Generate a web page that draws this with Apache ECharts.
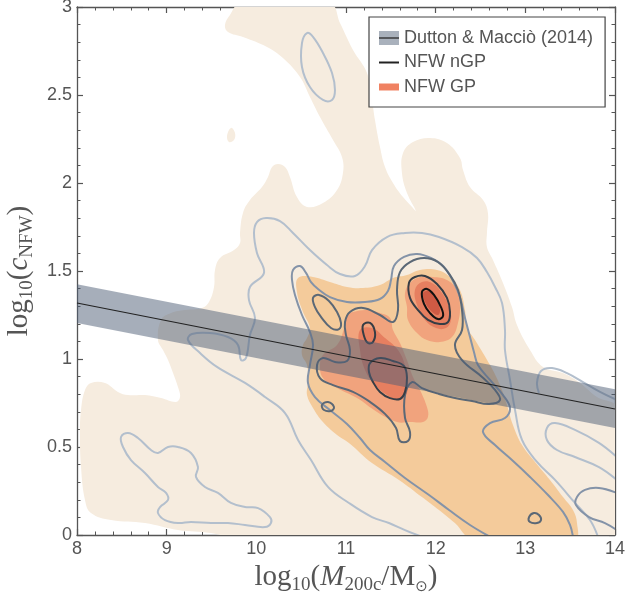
<!DOCTYPE html>
<html><head><meta charset="utf-8">
<script src="https://cdn.jsdelivr.net/npm/echarts@6/dist/echarts.min.js"></script>
<style>html,body{margin:0;padding:0;background:#fff}#c{width:644px;height:595px}</style>
</head><body><div id="c"></div>
<script>
// ---------- Dutton & Maccio (2014) relation ----------
const bandMass   = [8, 14];
const bandCentre = [1.318, 0.716];
const bandUpper  = [1.425, 0.828];
const bandLower  = [1.205, 0.608];

// ---------- NFW GP : filled density levels (log10 M, log10 c) ----------
const gpLevel1 = [
 [[9.818,3.02],[10.821,3.02],[10.933,2.909],[11.078,2.756],[11.234,2.625],[11.290,2.472],[11.323,2.358],[11.379,2.205],[11.435,2.091],[11.524,2.000],[11.636,1.920],[11.747,1.858],[11.780,1.841],[11.680,1.943],[11.624,2.057],[11.636,2.170],[11.747,2.233],[11.937,2.256],[12.126,2.227],[12.271,2.142],[12.305,2.074],[12.383,1.977],[12.528,1.903],[12.583,1.830],[12.572,1.716],[12.572,1.636],[12.639,1.563],[12.751,1.432],[12.851,1.295],[12.907,1.193],[13.052,1.051],[13.197,0.955],[13.420,0.920],[13.609,0.864],[13.799,0.784],[14.02,0.722],[14.02,-0.02],[9.818,-0.02],[9.494,0.011],[9.126,0.028],[8.758,0.068],[8.379,0.085],[8.156,0.125],[8.089,0.199],[8.045,0.386],[8.033,0.580],[8.045,0.710],[8.089,0.824],[8.156,0.864],[8.312,0.864],[8.457,0.813],[8.569,0.795],[8.758,0.795],[8.937,0.778],[9.104,0.756],[9.149,0.784],[9.126,0.841],[9.071,0.920],[9.015,0.994],[8.959,1.051],[8.903,1.108],[8.937,1.222],[9.048,1.261],[9.204,1.278],[9.394,1.290],[9.472,1.324],[9.528,1.409],[9.539,1.506],[9.595,1.574],[9.751,1.619],[9.818,1.659],[9.818,1.716],[9.851,1.830],[9.929,1.903],[10.063,1.977],[10.130,2.034],[10.175,2.091],[10.242,2.108],[10.320,2.091],[10.375,2.034],[10.453,1.920],[10.565,1.864],[10.743,1.886],[10.900,1.960],[10.966,2.057],[10.955,2.148],[10.855,2.244],[10.710,2.375],[10.598,2.489],[10.487,2.602],[10.297,2.710],[10.119,2.773],[9.851,2.830],[9.684,2.858],[9.650,2.898],[9.706,2.955]],
 [[9.717,2.313],[9.762,2.284],[9.751,2.244],[9.695,2.233],[9.673,2.267]]
];
const gpLevel2 = [
 [[10.465,1.460],[10.632,1.466],[10.821,1.437],[11.011,1.409],[11.190,1.403],[11.379,1.420],[11.524,1.460],[11.680,1.477],[11.825,1.506],[12.015,1.506],[12.160,1.466],[12.271,1.392],[12.327,1.278],[12.349,1.182],[12.439,1.108],[12.606,0.966],[12.717,0.852],[12.795,0.739],[12.862,0.625],[12.963,0.511],[13.108,0.415],[13.275,0.313],[13.420,0.216],[13.531,0.142],[13.576,0.068],[13.554,-0.02],[12.405,-0.02],[12.215,0.068],[12.037,0.142],[11.847,0.216],[11.591,0.313],[11.290,0.409],[11.033,0.523],[10.900,0.568],[10.743,0.642],[10.632,0.722],[10.565,0.795],[10.576,0.869],[10.565,0.966],[10.509,1.023],[10.520,1.080],[10.565,1.119],[10.598,1.176],[10.520,1.267],[10.453,1.381]]
];
const gpLevel3 = [
 [[11.680,1.295],[11.658,1.375],[11.714,1.432],[11.825,1.466],[11.970,1.466],[12.126,1.449],[12.238,1.392],[12.271,1.295],[12.249,1.205],[12.182,1.125],[12.048,1.097],[11.903,1.108],[11.792,1.148],[11.691,1.222]],
 [[11.011,1.250],[11.078,1.267],[11.234,1.278],[11.379,1.261],[11.491,1.233],[11.524,1.165],[11.602,1.091],[11.680,0.994],[11.747,0.898],[11.825,0.824],[11.903,0.727],[11.914,0.670],[11.859,0.642],[11.714,0.642],[11.569,0.642],[11.346,0.699],[11.123,0.778],[10.900,0.835],[10.743,0.892],[10.710,0.966],[10.743,1.023],[10.900,1.080],[10.966,1.153]]
];
const gpLevel4 = [
 [[11.769,1.392],[11.847,1.437],[11.959,1.432],[12.071,1.375],[12.149,1.295],[12.171,1.222],[12.115,1.176],[12.004,1.176],[11.881,1.222],[11.792,1.307]],
 [[11.156,1.165],[11.290,1.176],[11.435,1.119],[11.580,1.051],[11.658,0.966],[11.691,0.881],[11.669,0.795],[11.580,0.767],[11.457,0.795],[11.323,0.852],[11.212,0.938],[11.156,1.051]]
];
const gpLevel5 = [
 [[11.859,1.375],[11.926,1.386],[12.004,1.341],[12.048,1.278],[12.026,1.250],[11.948,1.273],[11.881,1.324]]
];

// ---------- NFW nGP : contour lines ----------
const ngpLevel1Closed = [
 [[10.565,2.852],[10.509,2.795],[10.509,2.659],[10.598,2.545],[10.743,2.472],[10.844,2.472],[10.877,2.528],[10.844,2.625],[10.743,2.739],[10.632,2.830]],
 [[8.491,0.557],[8.569,0.580],[8.680,0.551],[8.825,0.483],[8.903,0.466],[9.015,0.500],[9.126,0.500],[9.271,0.466],[9.349,0.386],[9.327,0.330],[9.427,0.273],[9.572,0.239],[9.717,0.182],[9.874,0.159],[10.019,0.153],[10.152,0.102],[10.163,0.068],[10.097,0.045],[9.874,0.057],[9.684,0.068],[9.494,0.068],[9.271,0.074],[9.126,0.068],[8.981,0.085],[8.903,0.125],[8.926,0.159],[9.015,0.199],[8.993,0.239],[8.903,0.273],[8.758,0.352],[8.602,0.426],[8.513,0.500]]
];
const ngpLevel1Open = [
 [[11.847,-0.01],[11.658,0.028],[11.479,0.068],[11.290,0.102],[11.033,0.182],[10.799,0.273],[10.610,0.426],[10.465,0.540],[10.320,0.693],[10.097,0.784],[9.874,0.864],[9.561,0.955],[9.372,1.034],[9.238,1.108],[9.282,1.142],[9.483,1.148],[9.684,1.125],[9.795,1.080],[9.829,0.994],[9.885,1.006],[9.929,1.136],[9.985,1.233],[9.918,1.335],[9.929,1.409],[10.085,1.489],[10.007,1.602],[9.974,1.716],[10.007,1.778],[10.108,1.801],[10.264,1.784],[10.409,1.716],[10.598,1.619],[10.788,1.534],[10.933,1.483],[11.100,1.472],[11.212,1.528],[11.290,1.619],[11.457,1.693],[11.658,1.716],[11.847,1.716],[12.037,1.693],[12.294,1.636],[12.461,1.574],[12.572,1.494],[12.662,1.409],[12.740,1.318],[12.773,1.165],[12.773,1.051],[12.829,0.881],[12.885,0.710],[12.963,0.540],[13.130,0.415],[13.331,0.313],[13.554,0.182],[13.721,0.085],[13.810,-0.01]],
 [[14.02,0.767],[13.833,0.813],[13.643,0.869],[13.465,0.920],[13.297,0.949],[13.175,0.932],[13.130,0.864],[13.152,0.807]],
 [[14.02,0.443],[13.821,0.523],[13.554,0.597],[13.331,0.636],[13.241,0.608],[13.241,0.540],[13.353,0.483],[13.554,0.443],[13.821,0.386],[14.02,0.313]]
];
const ngpLevel2Open = [
 [[12.606,-0.01],[12.383,0.057],[12.149,0.142],[11.926,0.227],[11.658,0.324],[11.435,0.415],[11.268,0.483],[11.156,0.551],[11.011,0.631],[10.821,0.710],[10.654,0.784],[10.576,0.864],[10.598,0.966],[10.632,1.080],[10.598,1.153],[10.509,1.250],[10.431,1.364],[10.398,1.449],[10.409,1.506],[10.487,1.528],[10.554,1.489],[10.610,1.437],[10.688,1.398],[10.821,1.352],[11.011,1.324],[11.212,1.324],[11.379,1.341],[11.468,1.386],[11.502,1.449],[11.535,1.528],[11.647,1.580],[11.792,1.597],[11.948,1.574],[12.093,1.523],[12.193,1.443],[12.271,1.352],[12.327,1.233],[12.383,1.125],[12.427,1.040],[12.472,0.966],[12.606,0.881],[12.751,0.795],[12.829,0.722],[12.773,0.665],[12.606,0.636],[12.528,0.585],[12.662,0.511],[12.851,0.426],[13.052,0.330],[13.253,0.227],[13.420,0.131],[13.498,0.057],[13.531,-0.01]],
 [[14.02,0.239],[13.821,0.267],[13.665,0.256],[13.576,0.216],[13.565,0.170],[13.710,0.102],[13.888,0.068],[14.02,0.028]]
];
const ngpLevel3Closed = [
 [[11.044,1.267],[11.190,1.290],[11.379,1.250],[11.524,1.210],[11.580,1.278],[11.569,1.392],[11.602,1.494],[11.714,1.551],[11.870,1.574],[12.026,1.551],[12.160,1.477],[12.249,1.392],[12.294,1.278],[12.294,1.165],[12.215,1.080],[12.294,0.994],[12.517,0.898],[12.662,0.824],[12.717,0.767],[12.595,0.744],[12.405,0.761],[12.215,0.778],[12.037,0.801],[11.847,0.835],[11.736,0.869],[11.658,0.795],[11.658,0.665],[11.714,0.585],[11.691,0.534],[11.602,0.534],[11.558,0.608],[11.435,0.688],[11.268,0.756],[11.078,0.813],[10.855,0.852],[10.710,0.892],[10.677,0.966],[10.743,1.006],[10.877,0.983],[11.011,0.989],[11.044,1.051],[11.000,1.136],[10.989,1.210]],
 [[10.632,1.347],[10.699,1.364],[10.810,1.330],[10.900,1.267],[10.944,1.205],[10.922,1.170],[10.833,1.176],[10.721,1.239],[10.654,1.295]],
 [[10.732,0.739],[10.799,0.756],[10.866,0.727],[10.833,0.705],[10.755,0.710]],
 [[13.041,0.102],[13.096,0.125],[13.152,0.114],[13.175,0.085],[13.130,0.068],[13.052,0.074]]
];
const ngpLevel4Closed = [
 [[11.702,1.432],[11.769,1.466],[11.881,1.472],[12.015,1.426],[12.126,1.347],[12.160,1.267],[12.137,1.210],[12.048,1.199],[11.914,1.222],[11.803,1.278],[11.714,1.347]],
 [[11.268,0.977],[11.379,1.006],[11.524,0.989],[11.647,0.960],[11.680,0.892],[11.658,0.813],[11.602,0.773],[11.491,0.778],[11.379,0.813],[11.301,0.869],[11.256,0.926]],
 [[11.190,1.193],[11.268,1.205],[11.323,1.153],[11.301,1.097],[11.245,1.091],[11.201,1.131]]
];
const ngpLevel5Closed = [
 [[11.847,1.381],[11.903,1.398],[11.981,1.364],[12.059,1.295],[12.082,1.244],[12.026,1.227],[11.937,1.261],[11.870,1.313]]
];

// ---------- helpers ----------
function shapeSeries(name, polys, kind, style, z) {
  return {
    type: 'custom', name: name, coordinateSystem: 'cartesian2d',
    clip: true, silent: true, z: z, animation: false,
    data: polys.map(p => p[0]),
    renderItem: function (params, api) {
      const pts = polys[params.dataIndex].map(pt => api.coord(pt));
      return { type: kind, shape: { points: pts, smooth: 0.4 }, style: style };
    }
  };
}
const fill = c => ({ fill: c, stroke: null });
const line = (c, w) => ({ fill: 'none', stroke: c, lineWidth: w });

const AX = '#555';
const TXT = '#555';
const rich = {
  r: { fontFamily: 'Liberation Serif', fontSize: 29, color: TXT, lineHeight: 34 },
  i: { fontFamily: 'Liberation Serif', fontSize: 29, fontStyle: 'italic', color: TXT, lineHeight: 34 },
  s: { fontFamily: 'Liberation Serif', fontSize: 19, color: TXT, lineHeight: 14, verticalAlign: 'bottom' },
  o: { fontFamily: 'DejaVu Sans', fontSize: 15, color: TXT, lineHeight: 14, verticalAlign: 'bottom' }
};
function axisCommon(extra) {
  return Object.assign({
    type: 'value',
    axisLine: { show: true, onZero: false, lineStyle: { color: AX, width: 1.3 } },
    axisTick: { show: true, inside: true, length: 6, lineStyle: { color: AX, width: 1.2 } },
    minorTick: { show: true, splitNumber: 5, length: 3.5, lineStyle: { color: AX, width: 1 } },
    splitLine: { show: false },
    axisLabel: { show: false }
  }, extra);
}
const labelStyle = { show: true, fontFamily: 'Liberation Sans', fontSize: 18, color: TXT };

const bandPoly = [[bandMass[0], bandUpper[0]], [bandMass[1], bandUpper[1]], [bandMass[1], bandLower[1]], [bandMass[0], bandLower[0]]];
const centreLine = bandMass.map((m, i) => [m, bandCentre[i]]);

const chart = echarts.init(document.getElementById('c'), null, { renderer: 'canvas' });
chart.setOption({
  animation: false,
  backgroundColor: '#fff',
  grid: { left: 77, right: 29, top: 7, bottom: 60, containLabel: false, outerBoundsMode: 'none' },
  xAxis: [
    axisCommon({ min: 8, max: 14, interval: 1, position: 'bottom',
      axisLabel: Object.assign({ margin: 5 }, labelStyle),
      name: '{r|log}{s|10}{r|(}{i|M}{s|200c}{r|/M}{o|⊙}{r|)}',
      nameLocation: 'middle', nameGap: 22, nameTextStyle: { rich: rich } }),
    axisCommon({ min: 8, max: 14, interval: 1, position: 'top' })
  ],
  yAxis: [
    axisCommon({ min: 0, max: 3, interval: 0.5, position: 'left',
      axisLabel: Object.assign({ margin: 5 }, labelStyle),
      name: '{r|log}{s|10}{r|(}{i|c}{s|NFW}{r|)}',
      nameLocation: 'middle', nameGap: 25, nameTextStyle: { rich: rich } }),
    axisCommon({ min: 0, max: 3, interval: 0.5, position: 'right' })
  ],
  legend: {
    orient: 'vertical', left: 369, top: 17,
    padding: [12, 12, 11, 10], itemGap: 6.5,
    itemWidth: 20, itemHeight: 14, symbolKeepAspect: true,
    backgroundColor: 'rgba(255,255,255,0.95)',
    borderColor: '#444', borderWidth: 1.2, borderRadius: 0,
    textStyle: { fontFamily: 'Liberation Sans', fontSize: 18, color: TXT },
    selectedMode: false,
    data: [
      { name: 'Dutton & Macciò (2014)', icon: 'rect', itemStyle: { color: '#a9b1bc', borderWidth: 0 } },
      { name: 'NFW nGP', icon: 'path://M0,0H20V2H0Z', itemStyle: { color: '#222', borderWidth: 0 } },
      { name: 'NFW GP', icon: 'path://M0,0H20V7H0Z', itemStyle: { color: '#f08262', borderWidth: 0 } }
    ]
  },
  graphic: [
    { type: 'line', z: 100, shape: { x1: 379, y1: 38, x2: 399, y2: 38 }, style: { stroke: '#333', lineWidth: 1.4 } }
  ],
  series: [
    shapeSeries('gp1', gpLevel1, 'polygon', fill('#f6ecdf'), 1),
    shapeSeries('gp2', gpLevel2, 'polygon', fill('#f4cb9b'), 1),
    shapeSeries('NFW GP', gpLevel3, 'polygon', fill('#f1a37d'), 1),
    shapeSeries('gp4', gpLevel4, 'polygon', fill('#e67f60'), 1),
    shapeSeries('gp5', gpLevel5, 'polygon', fill('#cf5a44'), 1),
    shapeSeries('ngp1c', ngpLevel1Closed, 'polygon', line('#b3bfcd', 2), 2),
    shapeSeries('ngp1o', ngpLevel1Open, 'polyline', line('#b3bfcd', 2), 2),
    shapeSeries('ngp2o', ngpLevel2Open, 'polyline', line('#8493a8', 2), 2),
    shapeSeries('ngp3c', ngpLevel3Closed, 'polygon', line('#5b6876', 2), 2),
    shapeSeries('ngp4c', ngpLevel4Closed, 'polygon', line('#363d45', 2), 2),
    shapeSeries('NFW nGP', ngpLevel5Closed, 'polygon', line('#111', 2), 2),
    {
      type: 'custom', name: 'Dutton & Macciò (2014)', coordinateSystem: 'cartesian2d',
      clip: true, silent: true, z: 3, data: [bandPoly[0]],
      renderItem: function (params, api) {
        return { type: 'polygon', shape: { points: bandPoly.map(p => api.coord(p)) },
                 style: { fill: 'rgba(77,93,117,0.5)', stroke: null } };
      }
    },
    {
      type: 'line', name: 'Dutton centre', data: centreLine, symbol: 'none', silent: true, z: 4,
      lineStyle: { color: '#222', width: 1.2 }
    }
  ]
});
</script>
</body></html>
